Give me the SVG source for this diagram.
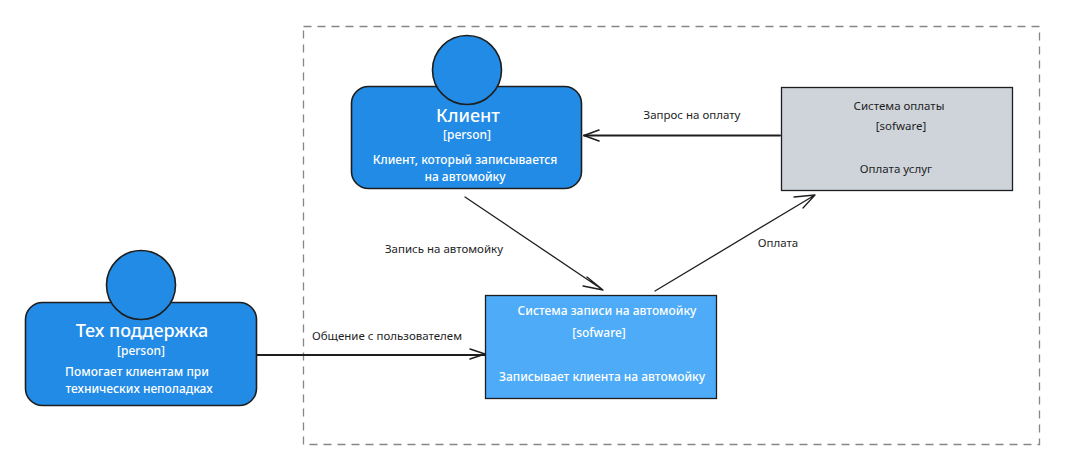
<svg xmlns="http://www.w3.org/2000/svg" width="1066" height="474" viewBox="0 0 1066 474">
<style>
text{font-family:"Noto Sans","Open Sans","Liberation Sans",sans-serif;text-anchor:middle}
.w{fill:#fff}
.t{font-size:18px;font-weight:500}
.s{font-size:12px;font-weight:500}
.d{fill:#1e1e1e;font-size:11.5px}
.p{fill:#228be6;stroke:#1e1e1e;stroke-width:1.6}
.c{fill:none;stroke:#1e1e1e;stroke-linecap:round;stroke-linejoin:round}
</style>
<rect id="boundary" x="303.500" y="26.500" width="736" height="418" fill="none" stroke="#868686" stroke-width="1.300" stroke-dasharray="8 6"/>
<g id="connectors">
<path class="c" stroke-width="2" d="M257 355H485"/><path class="c" stroke-width="1.500" d="M470 349L485 354L470 359"/>
<path class="c" stroke-width="2" d="M780 135.500H584"/><path class="c" stroke-width="1.500" d="M599 130L584 135.500L599 141"/>
<path class="c" stroke-width="1.300" d="M465 197L603 290M587 277L603 290L583 286"/>
<path class="c" stroke-width="1.300" d="M655 291L815 195M794 197L815 195L803 208"/>
</g>
<g id="support">
<rect class="p" x="25.500" y="302.500" width="231" height="103" rx="17"/>
<circle class="p" cx="141" cy="285" r="34.500"/>
<text class="w t" x="142" y="337">Тех поддержка</text>
<text class="w s" x="141" y="355">[person]</text>
<text class="w s" x="137" y="376">Помогает клиентам при</text>
<text class="w s" x="139" y="393">технических неполадках</text>
</g>
<g id="client">
<rect class="p" x="351.500" y="86.500" width="230" height="102" rx="17"/>
<circle class="p" cx="467" cy="70" r="34.500"/>
<text class="w t" x="468" y="122">Клиент</text>
<text class="w s" x="467" y="139">[person]</text>
<text class="w s" x="465" y="164">Клиент, который записывается</text>
<text class="w s" x="465" y="181">на автомойку</text>
</g>
<g id="booking">
<rect x="485.500" y="295.500" width="231" height="103" fill="#4dabf7" stroke="#1e1e1e" stroke-width="1.300"/>
<text class="w s" x="607" y="315">Система записи на автомойку</text>
<text class="w s" x="599" y="337">[sofware]</text>
<text class="w s" x="602" y="381">Записывает клиента на автомойку</text>
</g>
<g id="payment">
<rect x="781.500" y="87.500" width="231" height="103" fill="#ced4da" stroke="#1e1e1e" stroke-width="1.300"/>
<text class="d" x="899" y="110">Система оплаты</text>
<text class="d" x="901" y="130">[sofware]</text>
<text class="d" x="896" y="173">Оплата услуг</text>
</g>
<g id="labels">
<text class="d" x="692" y="119">Запрос на оплату</text>
<text class="d" x="444" y="253">Запись на автомойку</text>
<text class="d" x="778" y="247">Оплата</text>
<text class="d" x="387" y="340">Общение с пользователем</text>
</g>
</svg>
